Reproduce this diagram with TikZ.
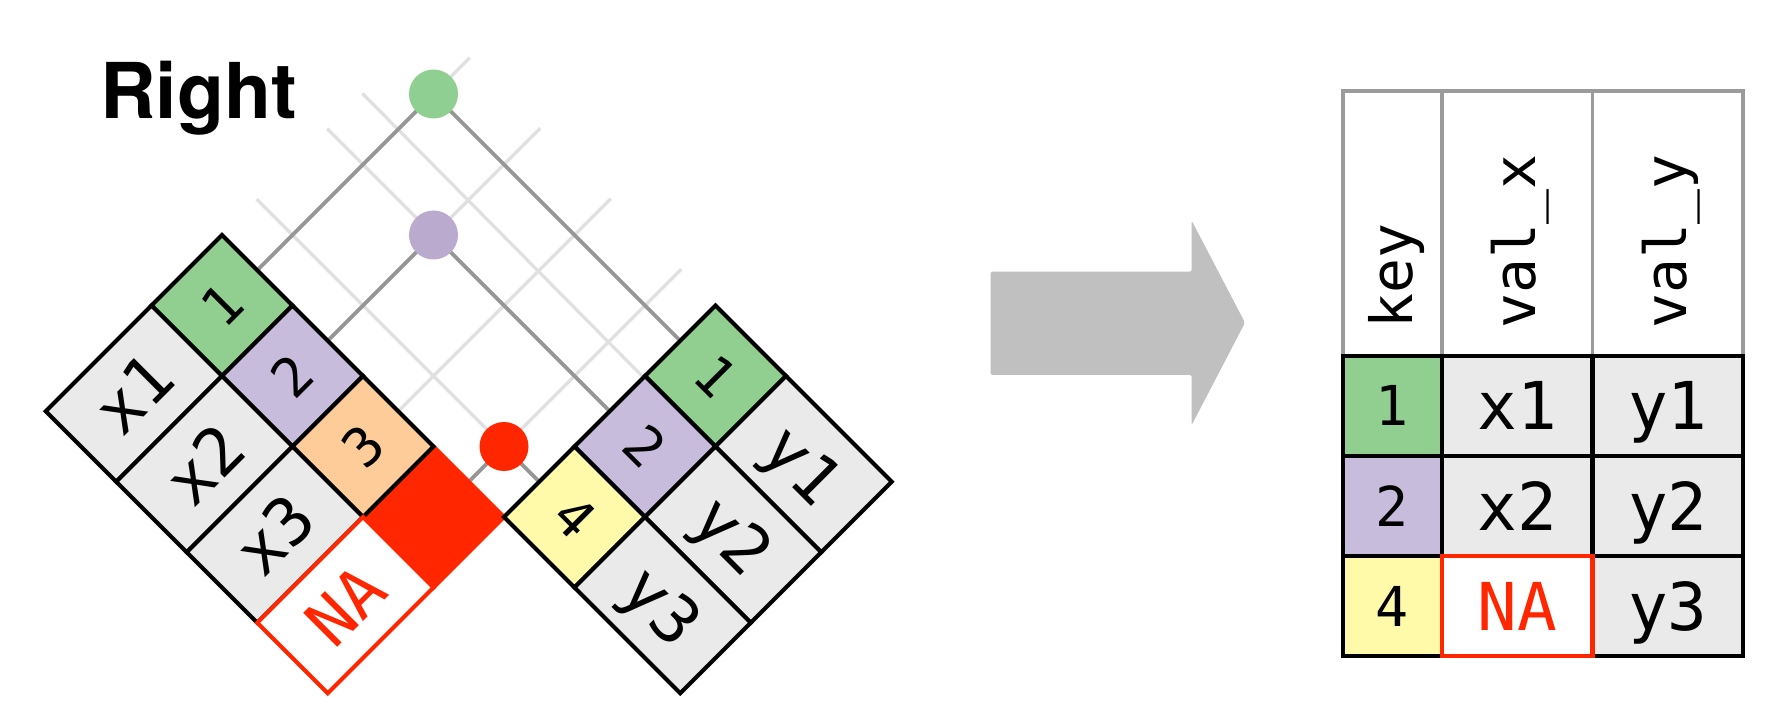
\documentclass[tikz,border=0pt]{standalone}
\usepackage{fontspec}
\newfontfamily\titlefont{TeX Gyre Heros}
\newfontfamily\cellfont{DejaVu Sans Mono}
\definecolor{cgreen}{RGB}{144,207,144}
\definecolor{cgreendot}{RGB}{143,208,146}
\definecolor{cpurple}{RGB}{200,188,220}
\definecolor{cpurpledot}{RGB}{186,171,206}
\definecolor{corange}{RGB}{254,204,153}
\definecolor{cyellow}{RGB}{255,250,170}
\definecolor{cred}{RGB}{255,38,0}
\definecolor{cgray}{RGB}{234,234,234}
\definecolor{cdark}{RGB}{150,150,150}
\definecolor{clight}{RGB}{224,224,224}
\definecolor{carrow}{RGB}{192,192,192}
\definecolor{chead}{RGB}{155,155,155}
\pgfdeclarelayer{background}
\pgfsetlayers{background,main}
\begin{document}
\begin{tikzpicture}[x=1pt,y=-1pt,
  cell/.style={draw=black,line width=4.2pt,inner sep=0pt,minimum height=99.7pt,
    text height=48pt,text depth=0pt,font=\cellfont\fontsize{66}{66}\selectfont},
  keycell/.style={cell,minimum width=99.7pt,text height=39pt,font=\cellfont\fontsize{54}{54}\selectfont},
  valcell/.style={cell,minimum width=149.55pt,fill=cgray},
  lrot/.style={rotate=45},
  rrot/.style={rotate=-45},
  lightline/.style={draw=clight,line width=3.2pt},
  darkline/.style={draw=cdark,line width=3.6pt},
  dot/.style={circle,inner sep=0pt,minimum size=49pt},
  headcell/.style={draw=chead,line width=3.4pt,inner sep=0pt,minimum height=265pt},
  headtext/.style={rotate=90,anchor=west,inner sep=0pt,font=\cellfont\fontsize{58}{58}\selectfont},
  tcell/.style={draw=black,line width=4.2pt,inner sep=0pt,minimum height=100pt,
    text height=48pt,text depth=0pt,font=\cellfont\fontsize{66}{66}\selectfont},
  tkey/.style={tcell,minimum width=99pt,text height=40pt,font=\cellfont\fontsize{55}{55}\selectfont},
  tval/.style={tcell,minimum width=150.5pt,fill=cgray}
]
\useasboundingbox (0,0) rectangle (1789,708);

% title
\node[anchor=base west,inner sep=0pt,font=\titlefont\bfseries\fontsize{77}{77}\selectfont] (title) at (100,118.5) {Right};

% left table (x)
\node[keycell,lrot,fill=cred,draw=cred] (lk4) at (433.5,517) {};
\node[keycell,lrot,fill=cgreen] (lk1) at (222,305.5) {1};
\node[keycell,lrot,fill=cpurple] (lk2) at (292.5,376) {2};
\node[keycell,lrot,fill=corange] (lk3) at (363,446.5) {3};
\node[valcell,lrot] (lv1) at (133.875,393.625) {x1};
\node[valcell,lrot] (lv2) at (204.375,464.125) {x2};
\node[valcell,lrot] (lv3) at (274.875,534.625) {x3};
\node[valcell,lrot,fill=white,draw=cred,text=cred] (lv4) at (345.375,605.125) {NA};

% right table (y)
\node[keycell,rrot,fill=cgreen] (rk1) at (715.5,376) {1};
\node[keycell,rrot,fill=cpurple] (rk2) at (645,446.5) {2};
\node[keycell,rrot,fill=cyellow] (rk3) at (574.5,517) {4};
\node[valcell,rrot] (rv1) at (803.625,464.125) {y1};
\node[valcell,rrot] (rv2) at (733.125,534.625) {y2};
\node[valcell,rrot] (rv3) at (662.625,605.125) {y3};

% match dots
\node[dot,fill=cgreendot] (d1) at (433.5,94) {};
\node[dot,fill=cpurpledot] (d2) at (433.5,235) {};
\node[dot,fill=cred] (d3) at (504,446.5) {};

% free ends of the grid lines
\coordinate (le1) at (469.75,57.75);
\coordinate (le2) at (540.25,128.25);
\coordinate (le3) at (610.75,198.75);
\coordinate (le4) at (681.25,269.25);
\coordinate (rc) at (362.5,93.5);
\coordinate (re2) at (327.25,128.75);
\coordinate (re3) at (256.75,199.25);

\begin{pgfonlayer}{background}
  \draw[lightline] (lk1.east) -- (le1);
  \draw[lightline] (lk2.east) -- (le2);
  \draw[lightline] (lk3.east) -- (le3);
  \draw[lightline] (lk4.east) -- (le4);
  \draw[lightline] (rk1.south west) -- (rc);
  \draw[lightline] (rk2.west) -- (re2);
  \draw[lightline] (rk3.west) -- (re3);
  \draw[darkline] (lk1.east) -- (d1.center) -- (rk1.west);
  \draw[darkline] (lk2.east) -- (d2.center) -- (rk2.west);
  \draw[darkline] (lk4.east) -- (d3.center) -- (rk3.west);
\end{pgfonlayer}

% big arrow
\fill[carrow,rounded corners=2pt] (990.7,271.7) -- (1191.7,271.7) -- (1191.7,220.7)
  -- (1245,322.7) -- (1191.7,425) -- (1191.7,375) -- (990.7,375) -- cycle;

% result table header
\node[headcell,minimum width=99pt] (hk) at (1392.5,223.5) {};
\node[headcell,minimum width=150.5pt] (hvx) at (1517.25,223.5) {};
\node[headcell,minimum width=150.5pt] (hvy) at (1667.75,223.5) {};
\node[headtext] (hkt) at (1396,329) {key};
\node[headtext] (hvxt) at (1520.5,329) {val\_x};
\node[headtext] (hvyt) at (1671,329) {val\_y};

% result table body
\node[tkey,fill=cgreen] (tk1) at (1392.5,406) {1};
\node[tval] (tx1) at (1517.25,406) {x1};
\node[tval] (ty1) at (1667.75,406) {y1};
\node[tkey,fill=cpurple] (tk2) at (1392.5,506) {2};
\node[tval] (tx2) at (1517.25,506) {x2};
\node[tval] (ty2) at (1667.75,506) {y2};
\node[tkey,fill=cyellow] (tk3) at (1392.5,606) {4};
\node[tval] (ty3) at (1667.75,606) {y3};
\node[tval,fill=white,draw=cred,text=cred] (tx3) at (1517.25,606) {NA};
\end{tikzpicture}
\end{document}
